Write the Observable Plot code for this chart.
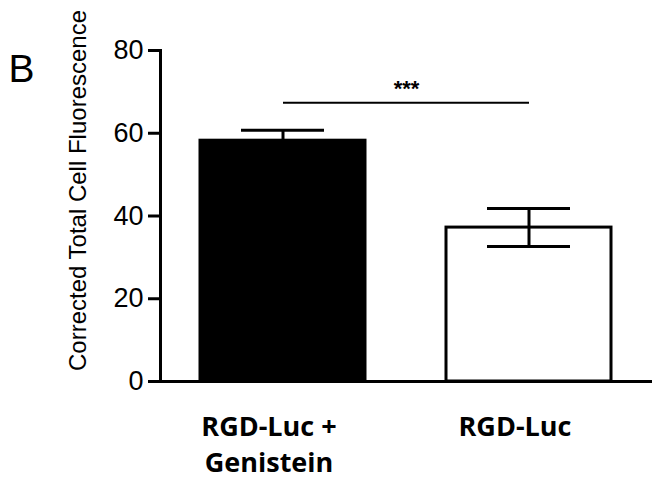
<!DOCTYPE html>
<html>
<head>
<meta charset="utf-8">
<script src="https://cdn.jsdelivr.net/npm/d3@7"></script>
<script src="https://cdn.jsdelivr.net/npm/@observablehq/plot@0.6"></script>
<style>
  html, body { margin: 0; padding: 0; background: #fff; }
  #chart { width: 652px; height: 479px; }
</style>
</head>
<body>
<div id="chart"></div>
<script>
// ---- data ----
const categories = ["RGD-Luc + Genistein", "RGD-Luc"];
const xTickLabels = ["RGD-Luc +\nGenistein", "RGD-Luc"];
const means = [58.2, 37.2];
const errors = [2.5, 4.6];
const yTicks = [0, 20, 40, 60, 80];
const yLabel = "Corrected Total Cell Fluorescence";
const panelLabel = "B";
const sigLabel = "***";
const sigY = 67.4;

const rows = categories.map((c, i) => ({cat: c, mean: means[i], lo: means[i] - errors[i], hi: means[i] + errors[i]}));
const sig = [{x1: categories[0], x2: categories[1], y: sigY, label: sigLabel}];

const chart = Plot.plot({
  width: 652,
  height: 479,
  marginLeft: 160,
  marginRight: 0,
  marginTop: 50,
  marginBottom: 98,
  style: {fontFamily: "'Liberation Sans', Arial, sans-serif", color: "#000", background: "#fff"},
  x: {type: "band", domain: categories, range: [160, 652], paddingInner: 0.328, paddingOuter: 0.16, align: 0.5},
  y: {domain: [0, 80], range: [381, 50]},
  color: {domain: categories, range: ["#000", "#fff"]},
  marks: [
    Plot.barY(rows, {x: "cat", y: "mean", fill: "cat", stroke: "#000", strokeWidth: 3}),
    Plot.ruleX(rows, {x: "cat", y1: "lo", y2: "hi", stroke: "#000", strokeWidth: 3}),
    Plot.tickY(rows, {x: "cat", y: "hi", stroke: "#000", strokeWidth: 3, insetLeft: 41, insetRight: 41}),
    Plot.tickY(rows, {x: "cat", y: "lo", stroke: "#000", strokeWidth: 3, insetLeft: 41, insetRight: 41}),
    Plot.link(sig, {x1: "x1", x2: "x2", y1: "y", y2: "y", stroke: "#000", strokeWidth: 2}),
    Plot.text(sig, {y: "y", text: "label", frameAnchor: "middle", dy: -14, fontSize: 22, fontWeight: "bold"}),
    Plot.frame({anchor: "left", stroke: "#000", strokeWidth: 3}),
    Plot.ruleY([0], {stroke: "#000", strokeWidth: 3}),
    Plot.axisY({ticks: yTicks, tickSize: 12, tickPadding: 5, fontSize: 27, strokeWidth: 3, label: null}),
    Plot.axisX({tickSize: 0, tickPadding: 28, fontSize: 27, fontWeight: "bold", fontFamily: "'Open Sans', sans-serif",
                lineHeight: 1.36, dx: -14, label: null,
                tickFormat: (d) => xTickLabels[categories.indexOf(d)]}),
    Plot.text([yLabel], {frameAnchor: "left", rotate: -90, dx: -82, dy: -25.5, fontSize: 24, textAnchor: "middle", lineAnchor: "middle"}),
    Plot.text([panelLabel], {frameAnchor: "top-left", dx: -152, dy: 19, fontSize: 39, textAnchor: "start", lineAnchor: "middle"})
  ]
});
document.getElementById("chart").appendChild(chart);
</script>
</body>
</html>
